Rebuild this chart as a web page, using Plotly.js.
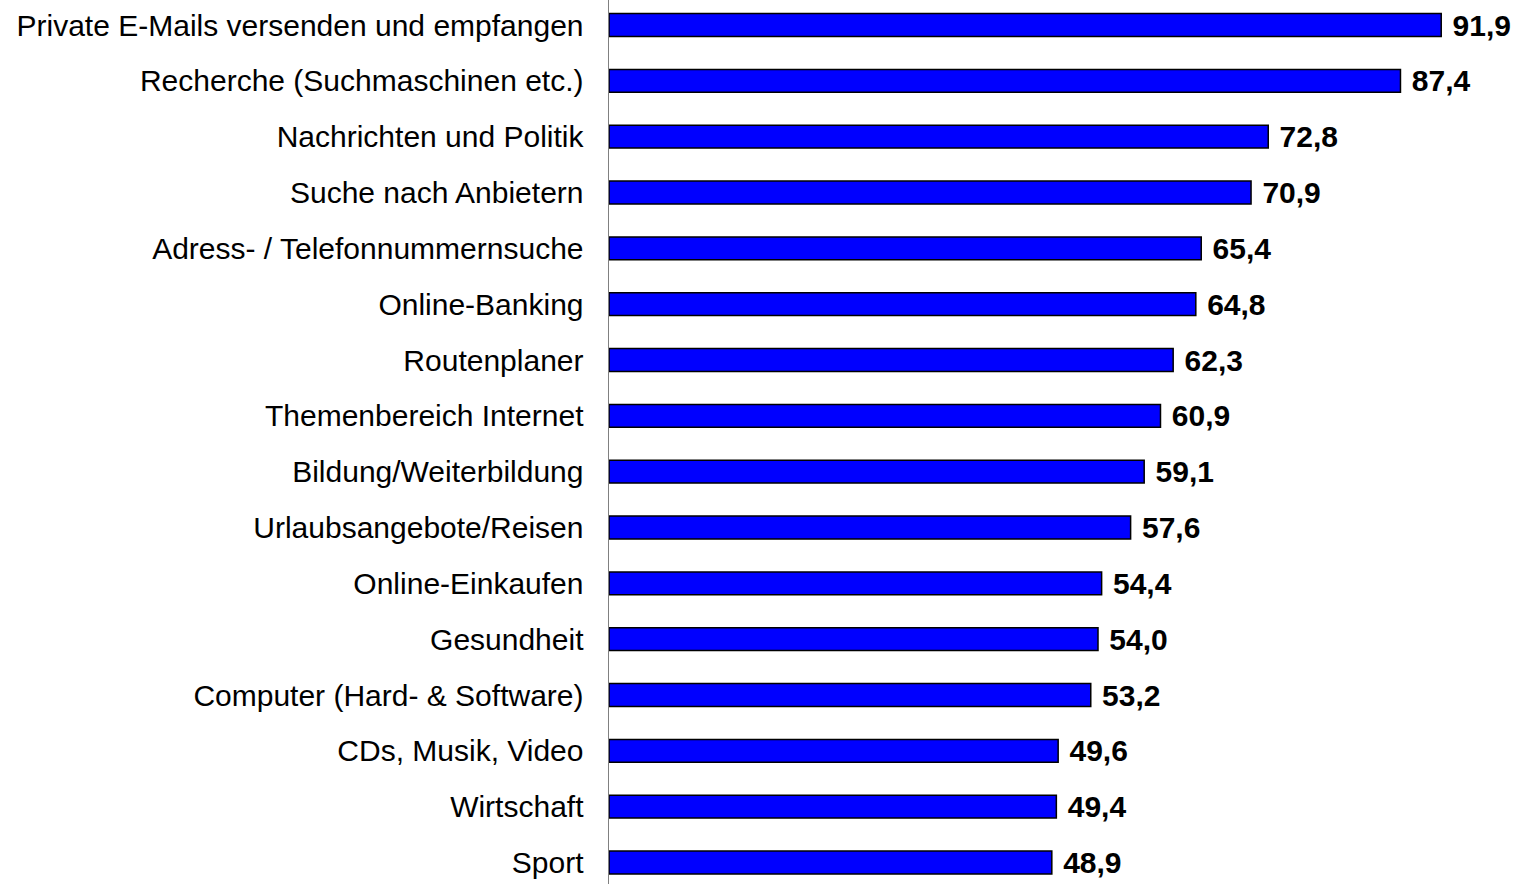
<!DOCTYPE html>
<html>
<head>
<meta charset="utf-8">
<script src="https://cdn.plot.ly/plotly-3.0.1.min.js"></script>
<style>html,body{margin:0;padding:0;background:#fff;}#chart{width:1520px;height:884px;}</style>
</head>
<body>
<div id="chart"></div>
<script>
const categories = [
  "Private E-Mails versenden und empfangen",
  "Recherche (Suchmaschinen etc.)",
  "Nachrichten und Politik",
  "Suche nach Anbietern",
  "Adress- / Telefonnummernsuche",
  "Online-Banking",
  "Routenplaner",
  "Themenbereich Internet",
  "Bildung/Weiterbildung",
  "Urlaubsangebote/Reisen",
  "Online-Einkaufen",
  "Gesundheit",
  "Computer (Hard- & Software)",
  "CDs, Musik, Video",
  "Wirtschaft",
  "Sport"
];
const values = [91.9, 87.4, 72.8, 70.9, 65.4, 64.8, 62.3, 60.9, 59.1, 57.6, 54.4, 54.0, 53.2, 49.6, 49.4, 48.9];

const trace = {
  type: "bar",
  orientation: "h",
  y: categories,
  x: values,
  width: 0.41,
  marker: {color: "#0000FF", line: {color: "#000000", width: 1.5}},
  texttemplate: " %{x:.1f}",
  textposition: "outside",
  textfont: {family: "Liberation Sans, Arial, sans-serif", size: 30, color: "#000000", weight: "bold"},
  constraintext: "none",
  cliponaxis: false,
  hoverinfo: "none"
};

const layout = {
  width: 1520,
  height: 884,
  margin: {l: 609, r: 0, t: 0, b: 0, pad: 0},
  paper_bgcolor: "#ffffff",
  plot_bgcolor: "#ffffff",
  separators: ",.",
  showlegend: false,
  font: {family: "Liberation Sans, Arial, sans-serif", size: 30, color: "#000000"},
  xaxis: {
    range: [0, 100.6],
    visible: false,
    showgrid: false,
    zeroline: false,
    fixedrange: true
  },
  yaxis: {
    type: "category",
    range: [15.385, -0.448],
    autorange: false,
    showline: true,
    linecolor: "#808080",
    linewidth: 1.5,
    ticks: "",
    showgrid: false,
    zeroline: false,
    ticklabelstandoff: 18,
    tickfont: {family: "Liberation Sans, Arial, sans-serif", size: 30, color: "#000000"},
    automargin: false,
    fixedrange: true
  }
};

Plotly.newPlot("chart", [trace], layout, {displayModeBar: false, staticPlot: true});
</script>
</body>
</html>
